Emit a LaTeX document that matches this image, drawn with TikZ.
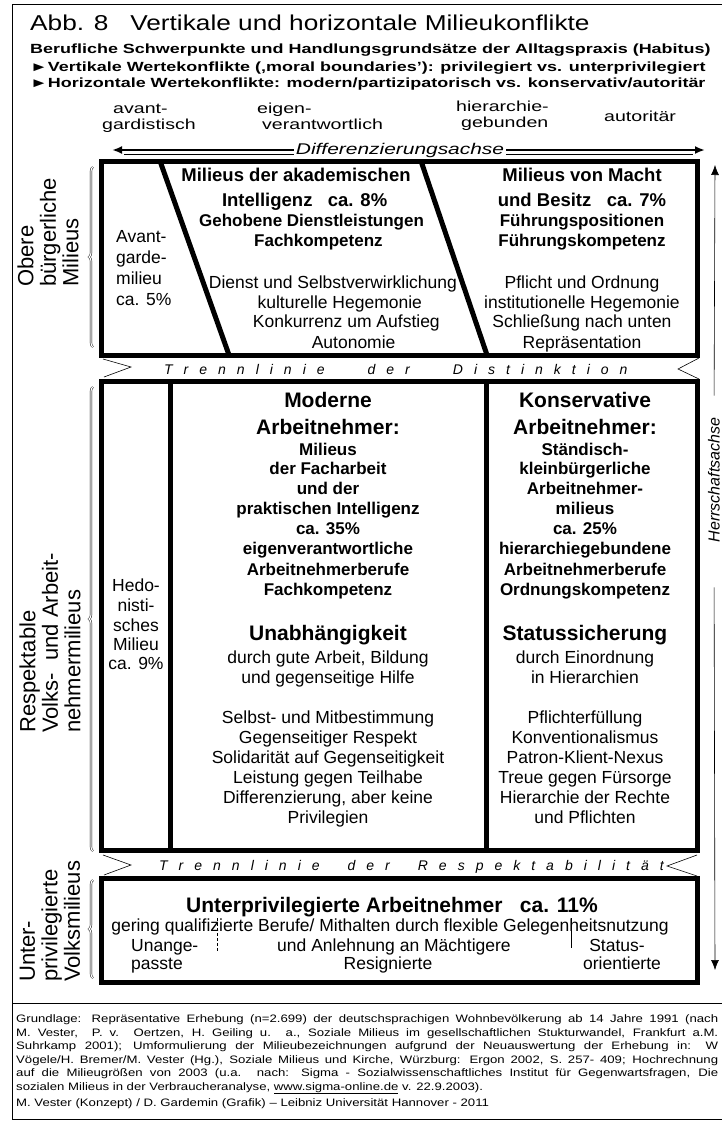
\documentclass[tikz,border=0pt]{standalone}
\usepackage{fontspec}
\setmainfont{Liberation Sans}
\newfontfamily\hdrfont{Liberation Sans}[FakeStretch=1.35]
\newfontfamily\footfont{Liberation Sans}[FakeStretch=1.22]
\usetikzlibrary{arrows.meta, decorations.pathreplacing, positioning}
\tikzset{%
>={Latex[width=8pt,length=10pt]},
  % lines and frames
            frame/.style = {line width=5pt, line join=miter},
            hair/.style = {line width=0.6pt},
            brc/.style = {decorate, decoration={brace, amplitude=4pt},
                            double, double distance=1.2pt, line width=0.45pt},
  % text
            ttl/.style = {font=\footfont\fontsize{21.5}{26}\selectfont, anchor=base west, inner sep=0pt},
            sub/.style = {font=\hdrfont\fontsize{13.3}{16}\bfseries, anchor=base west, inner sep=0pt},
            ax/.style = {font=\hdrfont\fontsize{14.5}{16}\selectfont, anchor=base west, inner sep=0pt},
            hd/.style = {font=\fontsize{21}{25}\bfseries, anchor=base, inner sep=0pt},
            hdb/.style = {font=\fontsize{18.5}{22}\bfseries, anchor=base, inner sep=0pt},
            sb/.style = {font=\fontsize{17}{20}\bfseries, anchor=base, inner sep=0pt},
            tx/.style = {font=\fontsize{17.5}{20}\selectfont, anchor=base, inner sep=0pt},
            side/.style = {font=\fontsize{22}{22.5}\selectfont, rotate=90, align=left,
                            anchor=west, inner sep=0pt},
            trenn/.style = {font=\fontsize{14}{16}\itshape, anchor=base west, inner sep=0pt},
            axlab/.style = {font=\hdrfont\fontsize{15.5}{18}\itshape, fill=white, inner sep=2pt},
            foot/.style = {font=\footfont\fontsize{10.8}{13}\selectfont, anchor=base west, inner sep=0pt}
}
\begin{document}
\begin{tikzpicture}[x=1pt, y=-1pt]
\useasboundingbox (0,0) rectangle (722,1124);
\fill[white] (0,0) rectangle (722,1124);
% outer frame
\draw[hair] (730,4) -- (12,4) -- (12,1119) -- (730,1119);
\draw[hair] (12,1003) -- (730,1003);

% header
\node[ttl] (title) at (30,31) {Abb. 8\ \ \ Vertikale und horizontale Milieukonflikte};
\node[sub] (habitus) at (30,54) {Berufliche Schwerpunkte und Handlungsgrundsätze der Alltagspraxis (Habitus)};
\node[sub] (vert) at (30,71) {►Vertikale Wertekonflikte (‚moral boundaries’): privilegiert vs. unterprivilegiert};
\node[sub] (horiz) at (30,87) {►Horizontale Wertekonflikte: modern/partizipatorisch vs. konservativ/autoritär};

\foreach \t/\xx/\yy [count=\i] in {avant-/113/113, gardistisch/102/129, eigen-/257/113,
    verantwortlich/262/129, hierarchie-/456/111, gebunden/461/127, autoritär/604/121}
  \node[ax] (pol\i) at (\xx,\yy) {\t};

% boxes
\draw[frame] (101,161) rectangle (697,355);
\draw[frame] (160,161) -- (229,355);
\draw[frame] (421,161) -- (487,355);
\draw[frame] (101,381) rectangle (697,850);
\draw[frame] (170,381) -- (170,850);
\draw[frame] (486,381) -- (486,850);
\draw[frame] (101,878) rectangle (697,982);

% Differenzierungsachse
\coordinate (dl) at (112,150);
\coordinate (dr) at (705,150);
\draw[line width=2pt, <->] (dl) -- (dr);
\draw[hair] ([xshift=12pt,yshift=-4pt]dl) -- ([xshift=-12pt,yshift=-4pt]dr);
\node[axlab] (diff) at (400,150) {Differenzierungsachse};

% Herrschaftsachse
\coordinate (htop) at (715,165);
\coordinate (hbot) at (715,970);
\node[font=\fontsize{16}{18}\itshape, rotate=90, fill=white, inner sep=0pt] (herr) at (714,480) {Herrschaftsachse};
\draw[hair, ->, shorten <=22pt] (herr.east) -- (htop);
\draw[hair, ->, shorten <=45pt] (herr.west) -- (hbot);

% milieu labels on the left
\node[side] (obere) at (48,287) {Obere\\bürgerliche\\Milieus};
\node[side] (respekt) at (50,733) {Respektable\\Volks-\ \ und Arbeit-\\nehmermilieus};
\node[side] (unter) at (50,982) {Unter-\\privilegierte\\Volksmilieus};
\draw[brc] (93,347) -- (93,167);
\draw[brc] (93,851) -- (93,387);
\draw[brc] (93,978) -- (93,880);

% Trennlinien
\node[trenn] (tdist) at (164,374) {\spaceskip=11pt\relax T r e n n l i n i e\hspace{43pt}d e r\hspace{43pt}D i s t i n k t i o n};
\node[trenn] (tresp) at (159,870) {\spaceskip=11pt\relax T r e n n l i n i e\hspace{28pt}d e r\hspace{28pt}R e s p e k t a b i l i t ä t};
\draw[hair] (103,359) -- (131,367) -- (104,377);
\draw[hair] (699,358) -- (678,369) -- (699,379);
\draw[hair] (103,855) -- (131,865) -- (104,875);
\draw[hair] (697,855) -- (667,866) -- (697,876);

% obere Milieus
\foreach \t/\yy [count=\i] in {Avant-/242, garde-/263, milieu/284, ca. 5\%/305}
  \node[tx, anchor=base west] (av\i) at (116,\yy) {\t};
\foreach \t/\yy [count=\i] in {Milieus der akademischen/181, Intelligenz\ \ \ ca. 8\%/206}
  \node[hdb] (ak\i) at ({296+0.345*(\yy-181)},\yy) {\t};
\foreach \t/\yy [count=\i] in {Gehobene Dienstleistungen/226, Fachkompetenz/246}
  \node[sb] (akb\i) at ({296+0.345*(\yy-181)},\yy) {\t};
\foreach \t/\yy [count=\i] in {Dienst und Selbstverwirklichung/288, kulturelle Hegemonie/308,
    Konkurrenz um Aufstieg/327, Autonomie/348}
  \node[tx] (akt\i) at ({296+0.345*(\yy-181)},\yy) {\t};
\foreach \t/\yy [count=\i] in {Milieus von Macht/181, und Besitz\ \ \ ca. 7\%/206}
  \node[hdb] (mb\i) at (582,\yy) {\t};
\foreach \t/\yy [count=\i] in {Führungspositionen/226, Führungskompetenz/246}
  \node[sb] (mbb\i) at (582,\yy) {\t};
\foreach \t/\yy [count=\i] in {Pflicht und Ordnung/288, institutionelle Hegemonie/308,
    Schließung nach unten/327, Repräsentation/348}
  \node[tx] (mbt\i) at (582,\yy) {\t};

% respektable Milieus
\foreach \t/\yy [count=\i] in {Hedo-/591, nisti-/611, sches/631, Milieu/650, ca. 9\%/669}
  \node[tx] (hed\i) at (136,\yy) {\t};
\foreach \t/\yy [count=\i] in {Moderne/407, Arbeitnehmer:/434, Unabhängigkeit/640}
  \node[hd] (mo\i) at (328,\yy) {\t};
\foreach \t/\yy [count=\i] in {Milieus/455, der Facharbeit/474, und der/494,
    praktischen Intelligenz/514, ca. 35\%/534, eigenverantwortliche/554,
    Arbeitnehmerberufe/575, Fachkompetenz/595}
  \node[sb] (mob\i) at (328,\yy) {\t};
\foreach \t/\yy [count=\i] in {{durch gute Arbeit, Bildung}/663, und gegenseitige Hilfe/683,
    Selbst- und Mitbestimmung/723, Gegenseitiger Respekt/743,
    Solidarität auf Gegenseitigkeit/763, Leistung gegen Teilhabe/783,
    {Differenzierung, aber keine}/803, Privilegien/823}
  \node[tx] (mot\i) at (328,\yy) {\t};
\foreach \t/\yy [count=\i] in {Konservative/407, Arbeitnehmer:/434, Statussicherung/640}
  \node[hd] (ko\i) at (585,\yy) {\t};
\foreach \t/\yy [count=\i] in {Ständisch-/455, kleinbürgerliche/474, Arbeitnehmer-/494,
    milieus/514, ca. 25\%/534, hierarchiegebundene/554,
    Arbeitnehmerberufe/575, Ordnungskompetenz/595}
  \node[sb] (kob\i) at (585,\yy) {\t};
\foreach \t/\yy [count=\i] in {durch Einordnung/663, in Hierarchien/683,
    Pflichterfüllung/723, Konventionalismus/743, Patron-Klient-Nexus/763,
    Treue gegen Fürsorge/783, Hierarchie der Rechte/803, und Pflichten/823}
  \node[tx] (kot\i) at (585,\yy) {\t};

% unterprivilegierte Milieus
\node[hd] (unterpriv) at (392,912) {Unterprivilegierte Arbeitnehmer\ \ \ ca. 11\%};
\node[tx] (gering) at (390,931) {gering qualifizierte Berufe/ Mithalten durch flexible Gelegenheitsnutzung};
\node[tx] (anlehn) at (394,951) {und Anlehnung an Mächtigere};
\node[tx] (resig) at (388,969) {Resignierte};
\node[tx, anchor=base west] (unang1) at (131,951) {Unange-};
\node[tx, anchor=base west] (unang2) at (131,969) {passte};
\node[tx] (stat1) at (617,951) {Status-};
\node[tx] (stat2) at (622,969) {orientierte};
\draw[hair, dash pattern=on 3pt off 2pt] (217,918) -- (217,952);
\draw[hair] (571,918) -- (571,948);

% footer
\node[foot] (f1) at (16,1022) {\makebox[702pt][s]{Grundlage: Repräsentative Erhebung (n=2.699) der deutschsprachigen Wohnbevölkerung ab 14 Jahre 1991 (nach}};
\node[foot] (f2) at (16,1036) {\makebox[702pt][s]{M. Vester,\ \ P. v. Oertzen, H. Geiling u. a., Soziale Milieus im gesellschaftlichen Stukturwandel, Frankfurt a.M.}};
\node[foot] (f3) at (16,1049) {\makebox[702pt][s]{Suhrkamp 2001); Umformulierung der Milieubezeichnungen aufgrund der Neuauswertung der Erhebung in: W}};
\node[foot] (f4) at (16,1063) {\makebox[702pt][s]{Vögele/H. Bremer/M. Vester (Hg.), Soziale Milieus und Kirche, Würzburg: Ergon 2002, S. 257- 409; Hochrechnung}};
\node[foot] (f5) at (16,1076) {\makebox[702pt][s]{auf die Milieugrößen von 2003 (u.a. nach: Sigma - Sozialwissenschaftliches Institut für Gegenwartsfragen, Die}};
\node[foot] (f6) at (16,1090) {sozialen Milieus in der Verbraucheranalyse, \underline{www.sigma-online.de} v. 22.9.2003).};
\node[foot] (f7) at (16,1106) {M. Vester (Konzept) / D. Gardemin (Grafik) – Leibniz Universität Hannover - 2011};
\end{tikzpicture}
\end{document}
